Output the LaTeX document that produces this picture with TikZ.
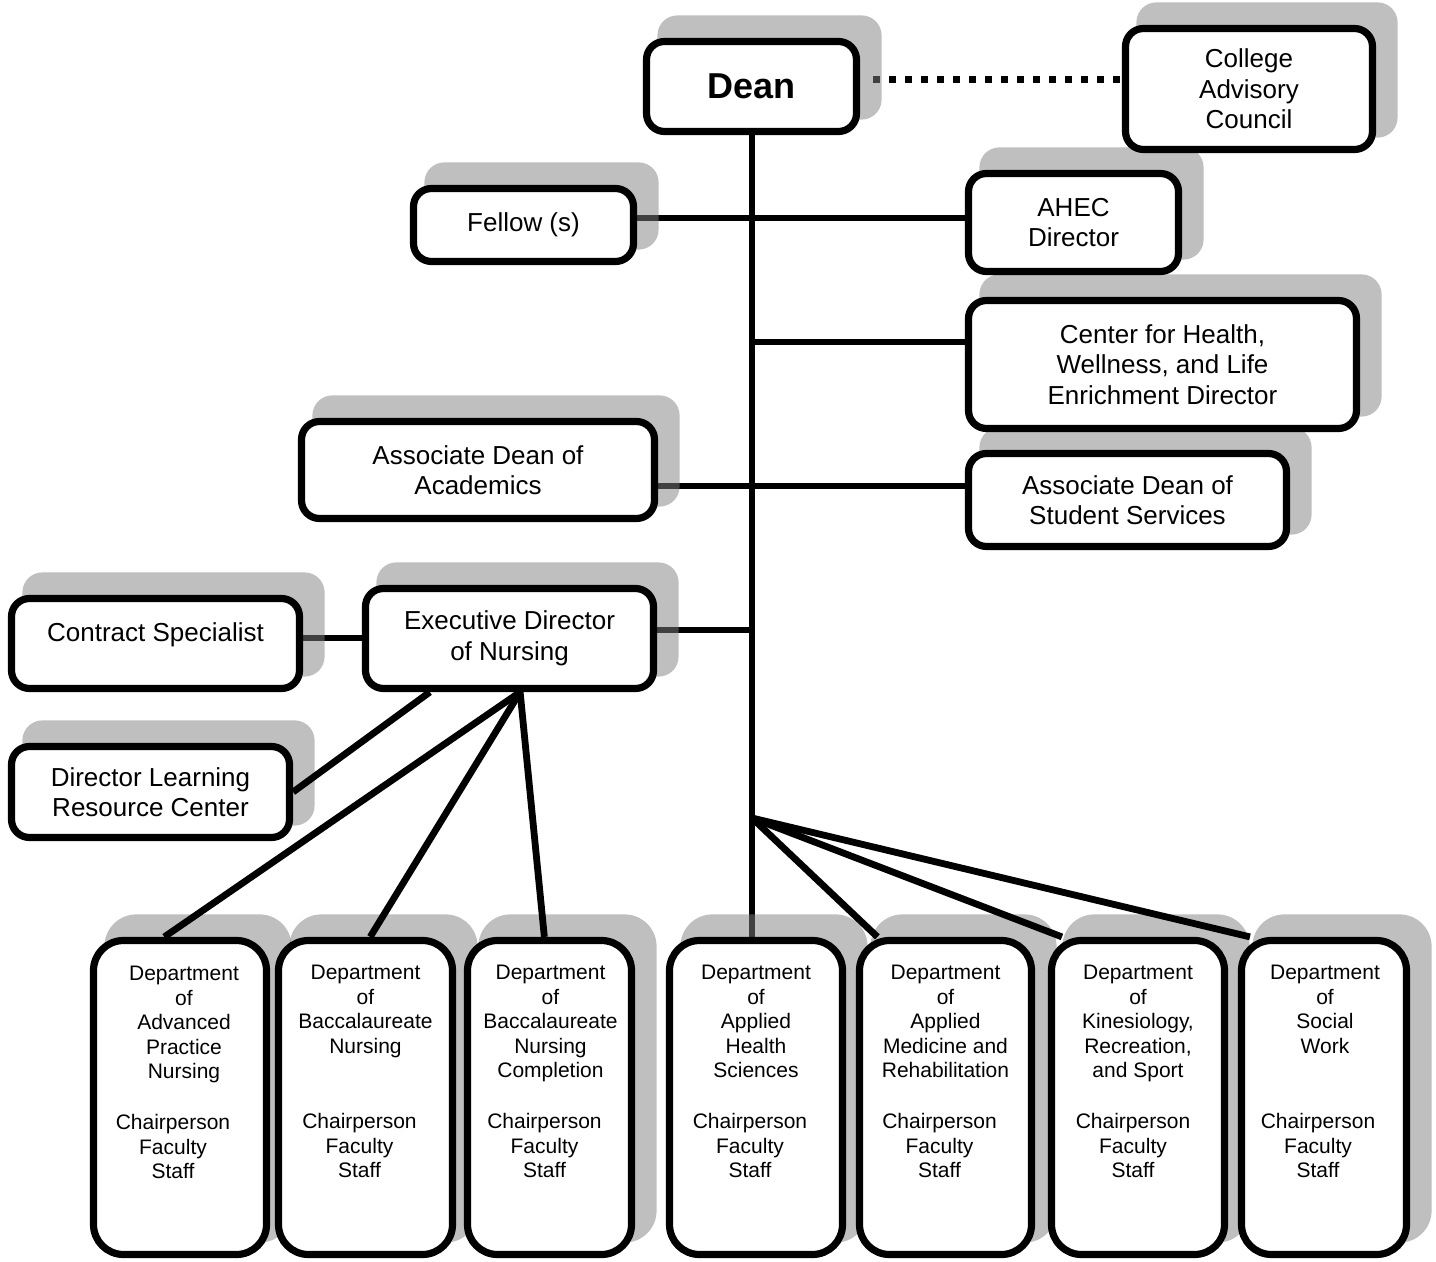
\documentclass[tikz,border=0pt]{standalone}
\usepackage{fontspec}
\setmainfont{Liberation Sans}
\usetikzlibrary{calc}
\pgfdeclarelayer{bgfill}
\pgfdeclarelayer{lines}
\pgfdeclarelayer{shadows}
\pgfsetlayers{bgfill,lines,shadows,main}
\definecolor{shadowc}{gray}{0.5}
\newcommand\mainfs{\fontsize{13}{15.25}\selectfont}
\newcommand\deptfs{\fontsize{10.5}{12.25}\selectfont}
\newcommand\deanfs{\fontsize{18}{20}\selectfont\bfseries}
% #1 name, #2 style, #3 x1, #4 y1, #5 x2, #6 y2, #7 text
\newcommand\mybox[7]{%
  \node[#2, minimum width={(#5-#3-7)*0.5pt}, minimum height={(#6-#4-7)*0.5pt}] (#1) at ({(#3+#5)/2},{(#4+#6)/2}) {#7};
  \begin{pgfonlayer}{shadows}
    \fill[s#2] ($(#1.south west)+(14.5,-15.5)$) rectangle ($(#1.north east)+(21.5,-22.5)$);
  \end{pgfonlayer}}
\tikzset{
  box/.style={draw, line width=3.6pt, rounded corners=9pt, fill=white, align=center, inner sep=0pt, font=\mainfs},
  dbox/.style={draw, line width=3.6pt, rounded corners=15pt, fill=white, inner sep=0pt},
  sbox/.style={fill=shadowc, fill opacity=0.5, rounded corners=10pt},
  sdbox/.style={fill=shadowc, fill opacity=0.5, rounded corners=16pt},
  conn/.style={line width=3.4pt},
  dotconn/.style={line width=3.5pt, dash pattern=on 3.5pt off 4.5pt},
  dtext/.style={align=center, inner sep=0pt, anchor=north, font=\deptfs},
}
\begin{document}
\begin{tikzpicture}[x=0.5pt,y=-0.5pt]
\begin{pgfonlayer}{bgfill}
\fill[white] (0,0) rectangle (1436,1262);
\end{pgfonlayer}
\useasboundingbox (0,0) rectangle (1436,1262);
% boxes
\mybox{dean}{box}{643}{38}{860}{135}{\deanfs Dean}
\mybox{cac}{box}{1122}{25}{1376}{153}{College\\Advisory\\Council}
\mybox{fel}{box}{410}{185}{637}{265}{Fellow (s)}
\mybox{ahec}{box}{965}{170}{1182}{275}{AHEC\\Director}
\mybox{chw}{box}{965}{297}{1360}{432}{Center for Health,\\Wellness, and Life\\Enrichment Director}
\mybox{ada}{box}{298}{418}{658}{522}{Associate Dean of\\Academics}
\mybox{adss}{box}{965}{450}{1290}{550}{Associate Dean of\\Student Services}
\mybox{cs}{box}{8}{595}{303}{692}{Contract Specialist\\[-4pt]\mbox{}}
\mybox{edn}{box}{362}{585}{657}{692}{Executive Director\\of Nursing}
\mybox{dlrc}{box}{8}{743}{293}{841}{Director Learning\\Resource Center}
% department boxes
\mybox{dA}{dbox}{90}{937}{270}{1258}{}
\mybox{dB}{dbox}{275}{937}{456}{1258}{}
\mybox{dC}{dbox}{464}{937}{635}{1258}{}
\mybox{dD}{dbox}{666}{937}{846}{1258}{}
\mybox{dE}{dbox}{856}{937}{1035}{1258}{}
\mybox{dF}{dbox}{1048}{937}{1228}{1258}{}
\mybox{dG}{dbox}{1238}{937}{1410}{1258}{}
% department texts
\node[dtext] (tA) at ($(dA.north)+(4,29)$) {Department\\of\\Advanced\\Practice\\Nursing};
\node[dtext] (bA) at ($(dA.north)+(-7,177)$) {Chairperson\\Faculty\\Staff};
\node[dtext] (tB) at ($(dB.north)+(0,28)$) {Department\\of\\Baccalaureate\\Nursing};
\node[dtext] (bB) at ($(dB.north)+(-6,176)$) {Chairperson\\Faculty\\Staff};
\node[dtext] (tC) at ($(dC.north)+(1,28)$) {Department\\of\\Baccalaureate\\Nursing\\Completion};
\node[dtext] (bC) at ($(dC.north)+(-5,176)$) {Chairperson\\Faculty\\Staff};
\node[dtext] (tD) at ($(dD.north)+(0,28)$) {Department\\of\\Applied\\Health\\Sciences};
\node[dtext] (bD) at ($(dD.north)+(-6,176)$) {Chairperson\\Faculty\\Staff};
\node[dtext] (tE) at ($(dE.north)+(0,28)$) {Department\\of\\Applied\\Medicine and\\Rehabilitation};
\node[dtext] (bE) at ($(dE.north)+(-6,176)$) {Chairperson\\Faculty\\Staff};
\node[dtext] (tF) at ($(dF.north)+(0,28)$) {Department\\of\\Kinesiology,\\Recreation,\\and Sport};
\node[dtext] (bF) at ($(dF.north)+(-5,176)$) {Chairperson\\Faculty\\Staff};
\node[dtext] (tG) at ($(dG.north)+(1,28)$) {Department\\of\\Social\\Work};
\node[dtext] (bG) at ($(dG.north)+(-6,176)$) {Chairperson\\Faculty\\Staff};
% helper coordinates
\coordinate (hub) at (752,818);
\coordinate (y80) at (0,80);
\coordinate (y218) at (0,218);
\coordinate (y342) at (0,342);
\coordinate (y486) at (0,486);
\coordinate (y630) at (0,630);
\coordinate (y638) at (0,638);
\coordinate (dotS) at (873,80);
% connectors under the shadows
\begin{pgfonlayer}{lines}
\draw[conn] (dean.south -| hub) -- (hub) -- (hub |- dD.north);
\draw[conn] (fel.east |- y218) -- (ahec.west |- y218);
\draw[conn] (hub |- y342) -- (chw.west |- y342);
\draw[conn] (ada.east |- y486) -- (adss.west |- y486);
\draw[conn] (edn.east |- y630) -- (hub |- y630);
\draw[conn] (cs.east |- y638) -- (edn.west |- y638);
\draw[dotconn] (dotS) -- (cac.west |- y80);
\end{pgfonlayer}
% connectors above the shadows
\begin{pgfonlayer}{shadows}
\draw[conn] ($(edn.south west)!0.23!(edn.south east)$) -- (dlrc.east);
\draw[conn] ($(edn.south west)!0.536!(edn.south east)$) -- ($(dA.north west)!0.413!(dA.north east)$);
\draw[conn] ($(edn.south west)!0.536!(edn.south east)$) -- ($(dB.north west)!0.526!(dB.north east)$);
\draw[conn] ($(edn.south west)!0.536!(edn.south east)$) -- ($(dC.north west)!0.47!(dC.north east)$);
\draw[conn] (hub) -- ($(dE.north west)!0.12!(dE.north east)$);
\draw[conn] (hub) -- ($(dF.north west)!0.078!(dF.north east)$);
\draw[conn] (hub) -- ($(dG.north west)!0.07!(dG.north east)$);
\end{pgfonlayer}
\end{tikzpicture}
\end{document}
